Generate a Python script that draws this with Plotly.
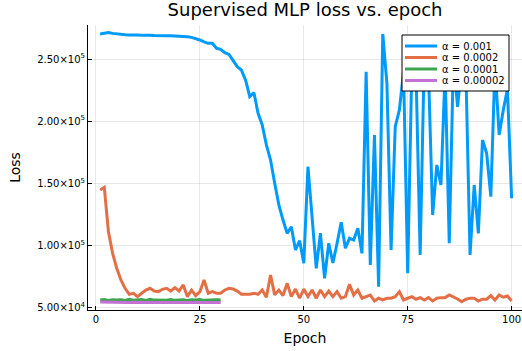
import plotly.graph_objects as go

epochs_long = list(range(1, 101))
epochs_short = list(range(1, 31))

loss_a001 = [270100, 270800, 271200, 270600, 270100, 269800, 269500, 269300, 269500, 269200,
             269000, 269300, 269100, 268900, 269000, 268800, 268700, 268600, 268500, 268300,
             268000, 267800, 267400, 266500, 265300, 263700, 262600, 262600, 258600, 257800,
             255100, 253700, 248600, 243800, 241000, 233000, 219700, 222900, 206300, 197000,
             180900, 168800, 150000, 132600, 120500, 109800, 115100, 96400, 103900, 85700,
             163400, 122000, 81700, 110000, 73600, 101800, 86000, 101800, 118700, 97800,
             105800, 104400, 113800, 93700, 239800, 84300, 188900, 66900, 270100, 230500,
             96400, 195600, 209000, 240000, 77700, 245000, 240000, 92400, 255000, 240000,
             124500, 164800, 148700, 240000, 101800, 250000, 211600, 245000, 240000, 92400,
             148700, 109800, 184900, 174200, 139300, 245000, 188900, 209000, 226000, 138000]

loss_a0002 = [144700, 146800, 111100, 93700, 81700, 72300, 65600, 60800, 61600, 58900,
              61600, 64200, 65600, 63400, 62900, 64800, 65600, 63400, 66100, 63400,
              68300, 58900, 64200, 59700, 62900, 72300, 61600, 62900, 61600, 61600,
              64200, 65600, 65000, 63400, 60800, 60800, 60800, 61600, 60800, 64200,
              58400, 76300, 60300, 64200, 59700, 69600, 58900, 65000, 57600, 65000,
              58900, 64200, 57600, 64200, 58900, 63400, 58900, 62900, 57600, 58900,
              68800, 60200, 64200, 57600, 58900, 60200, 55400, 57600, 56200, 57600,
              57600, 58900, 62900, 56200, 57600, 58900, 56800, 58100, 56200, 58100,
              55400, 57600, 58100, 58100, 60200, 58900, 57000, 54800, 56800, 57600,
              57600, 55400, 56800, 56800, 59700, 56200, 60200, 58400, 59400, 55400]

loss_a0001 = [56200, 56600, 55900, 56400, 56100, 56300, 55800, 56700, 56000, 56200,
              56500, 55900, 56800, 56100, 55900, 56300, 56000, 56600, 55900, 56200,
              56400, 55800, 56300, 56100, 56500, 55900, 56200, 56000, 56300, 56100]

loss_a00002 = [54500, 54400, 54300, 54300, 54200, 54300, 54200, 54200, 54300, 54200,
               54200, 54100, 54200, 54200, 54100, 54200, 54100, 54100, 54200, 54100,
               54100, 54100, 54200, 54100, 54100, 54000, 54100, 54100, 54000, 54100]

labels = ["α = 0.001", "α = 0.0002", "α = 0.0001", "α = 0.00002"]
colors = ["#009AFA", "#E36F47", "#3EA44E", "#C371D2"]

y_tickvals = [50000, 100000, 150000, 200000, 250000]
y_ticktext = ["5.00×10<sup>4</sup>", "1.00×10<sup>5</sup>", "1.50×10<sup>5</sup>",
              "2.00×10<sup>5</sup>", "2.50×10<sup>5</sup>"]
x_tickvals = [0, 25, 50, 75, 100]

W, H = 522, 351
L, R, T, B = 88, 0, 25, 41
PW, PH = W - L - R, H - T - B

def px_x(p):
    return (p - L) / PW

def px_y(p):
    return (H - B - p) / PH

FONT = "DejaVu Sans"

fig = go.Figure()
series = [(epochs_long, loss_a001), (epochs_long, loss_a0002),
          (epochs_short, loss_a0001), (epochs_short, loss_a00002)]
for (xs, ys), name, col in zip(series, labels, colors):
    fig.add_trace(go.Scatter(x=xs, y=ys, mode="lines", name=name,
                             line=dict(color=col, width=3), showlegend=False))

# legend (drawn in paper coordinates)
shapes = [dict(type="rect", xref="paper", yref="paper",
               x0=px_x(402), x1=px_x(509), y0=px_y(91), y1=px_y(35),
               fillcolor="white", line=dict(color="black", width=1), layer="above")]
annotations = []
row_y = [46, 57.5, 69, 80.5]
for name, col, ry in zip(labels, colors, row_y):
    shapes.append(dict(type="line", xref="paper", yref="paper",
                       x0=px_x(405), x1=px_x(437), y0=px_y(ry), y1=px_y(ry),
                       line=dict(color=col, width=3), layer="above"))
    annotations.append(dict(xref="paper", yref="paper", x=px_x(440), y=px_y(ry),
                            text=name, showarrow=False, xanchor="left", yanchor="middle",
                            font=dict(family=FONT, size=10, color="black")))

fig.update_layout(
    width=W, height=H,
    margin=dict(l=L, r=R, t=T, b=B, autoexpand=False),
    paper_bgcolor="white", plot_bgcolor="white",
    font=dict(family=FONT, color="black"),
    title=dict(text="Supervised MLP loss vs. epoch", x=0.5, xref="paper",
               y=1 - 10 / H, yref="container", yanchor="middle", xanchor="center",
               pad=dict(t=0, b=0),
               font=dict(family=FONT, size=18, color="black")),
    shapes=shapes, annotations=annotations,
    showlegend=False,
)
fig.update_xaxes(range=[-1.92, 102.5], tickvals=x_tickvals, automargin=False,
                 showgrid=True, gridcolor="rgba(0,0,0,0.09)", gridwidth=1,
                 zeroline=False, showline=True, linecolor="black", linewidth=1,
                 ticks="inside", ticklen=4, tickcolor="black",
                 tickfont=dict(family=FONT, size=10, color="black"),
                 title=dict(text="Epoch", font=dict(family=FONT, size=14, color="black"), standoff=9))
fig.update_yaxes(range=[48150, 277340], tickvals=y_tickvals, ticktext=y_ticktext, automargin=False,
                 showgrid=True, gridcolor="rgba(0,0,0,0.09)", gridwidth=1,
                 zeroline=False, showline=True, linecolor="black", linewidth=1,
                 ticks="inside", ticklen=4, tickcolor="black",
                 tickfont=dict(family=FONT, size=10, color="black"),
                 title=dict(text="Loss", font=dict(family=FONT, size=14, color="black"), standoff=13))

fig.write_html("out.html", config={"displayModeBar": False},
               post_script="document.body.style.margin='0px';document.body.style.overflow='hidden';")
